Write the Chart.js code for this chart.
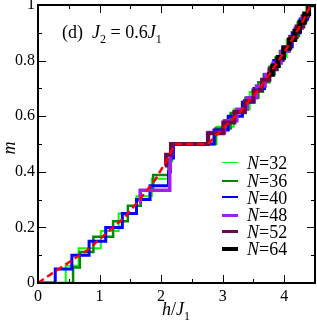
<!DOCTYPE html>
<html>
<head>
<meta charset="utf-8">
<script src="https://cdn.jsdelivr.net/npm/chart.js@4.4.0/dist/chart.umd.min.js"></script>
<style>
  html, body { margin: 0; padding: 0; background: #fff; }
  #wrap { position: relative; width: 317px; height: 325px; font-family: 'Liberation Serif', 'Times New Roman', serif; color: #000; }
  #myChart { position: absolute; left: 0; top: 0; }
  .txt { position: absolute; white-space: nowrap; line-height: 1; font-size: 18px; }
  .txt i { font-style: italic; }
  .txt sub { font-size: 12px; vertical-align: -5px; line-height: 0; }
  .leg { position: absolute; left: 222px; width: 16px; height: 0; }
  .legt { position: absolute; left: 247px; white-space: nowrap; line-height: 1; font-size: 18px; }
</style>
</head>
<body>
<div id="wrap">
  <canvas id="myChart" width="317" height="325"></canvas>
  <div class="txt" style="left:62px; top:23px;">(d)&nbsp;&nbsp;<i>J</i><sub>2</sub> = 0.6<i>J</i><sub>1</sub></div>
  <div class="txt" style="left:162px; top:300px;"><i>h</i>/<i>J</i><sub>1</sub></div>
  <div class="txt" style="left:2px; top:139px; transform: rotate(-90deg);"><i>m</i></div>
  <div id="legend"></div>
</div>
<script>
// magnetization steps: field h/J1 where m jumps, and m after the jump
const h32 = [0, 0.45, 0.66, 1.02, 1.31, 1.60, 1.85, 2.13, 2.18, 2.90, 3.18, 3.44, 3.66, 3.85, 4.04, 4.21, 4.36, 4.5];
const m32 = [0, 0.0625, 0.125, 0.1875, 0.25, 0.3125, 0.375, 0.4375, 0.5, 0.5625, 0.625, 0.6875, 0.75, 0.8125, 0.875, 0.9375, 1, 1];

const h36 = [0, 0.57, 0.68, 0.90, 1.22, 1.46, 1.67, 1.87, 2.12, 2.17, 2.88, 3.13, 3.37, 3.58, 3.76, 3.93, 4.09, 4.24, 4.37, 4.5];
const m36 = [0, 0.0556, 0.1111, 0.1667, 0.2222, 0.2778, 0.3333, 0.3889, 0.4444, 0.5, 0.5556, 0.6111, 0.6667, 0.7222, 0.7778, 0.8333, 0.8889, 0.9444, 1, 1];

const h40 = [0, 0.28, 0.55, 0.83, 1.10, 1.37, 1.60, 1.82, 2.12, 2.15, 2.20, 2.86, 3.09, 3.32, 3.51, 3.68, 3.83, 3.98, 4.13, 4.26, 4.38, 4.5];
const m40 = [0, 0.05, 0.1, 0.15, 0.2, 0.25, 0.3, 0.35, 0.4, 0.45, 0.5, 0.55, 0.6, 0.65, 0.7, 0.75, 0.8, 0.85, 0.9, 0.95, 1, 1];

const h48 = [1.64, 1.66, 2.14, 2.15, 2.17, 2.77, 3.03, 3.23, 3.40, 3.55, 3.69, 3.82, 3.95, 4.07, 4.18, 4.29, 4.39, 4.5];
const m48 = [0.2917, 0.3333, 0.4167, 0.4583, 0.5, 0.5417, 0.5833, 0.625, 0.6667, 0.7083, 0.75, 0.7917, 0.8333, 0.875, 0.9167, 0.9583, 1, 1];

const h52 = [2.06, 2.08, 2.16, 2.76, 3.01, 3.19, 3.36, 3.50, 3.64, 3.76, 3.88, 3.99, 4.10, 4.20, 4.31, 4.39, 4.5];
const m52 = [0.4231, 0.4615, 0.5, 0.5385, 0.5769, 0.6154, 0.6538, 0.6923, 0.7308, 0.7692, 0.8077, 0.8462, 0.8846, 0.9231, 0.9615, 1, 1];

const h64 = [3.72, 3.81, 3.90, 3.99, 4.08, 4.17, 4.25, 4.33, 4.40, 4.5];
const m64 = [0.75, 0.7813, 0.8125, 0.8438, 0.875, 0.9063, 0.9375, 0.9688, 1, 1];

// red dashed curve (large-N estimate)
const hInf = [0, 0.3, 0.8, 1.4, 1.65, 1.9, 2.09, 2.2, 2.24, 2.76, 3.0, 3.3, 3.6, 3.85, 4.1, 4.3, 4.43];
const mInf = [0, 0.045, 0.118, 0.235, 0.3, 0.37, 0.44, 0.49, 0.5, 0.5, 0.555, 0.62, 0.7, 0.78, 0.865, 0.94, 1];

const xMajor = [0, 1, 2, 3, 4];
const xMinor = [0.5, 1.5, 2.5, 3.5];
const yMajor = [0, 0.2, 0.4, 0.6, 0.8, 1];
const yLabels = ['0', '0.2', '0.4', '0.6', '0.8', '1'];
const yMinor = [0.1, 0.3, 0.5, 0.7, 0.9];

function pts(hs, ms) {
  return hs.map(function(h, i) { return {x: h, y: ms[i]}; });
}

const series = [
  {label: 'N=32', h: h32, m: m32, color: '#00ff00', width: 2, legW: 1.5},
  {label: 'N=36', h: h36, m: m36, color: '#008a00', width: 2.5, legW: 2},
  {label: 'N=40', h: h40, m: m40, color: '#0000ff', width: 3, legW: 2.5},
  {label: 'N=48', h: h48, m: m48, color: '#a020f0', width: 3.5, legW: 3},
  {label: 'N=52', h: h52, m: m52, color: '#6a0a4e', width: 4, legW: 3.5},
  {label: 'N=64', h: h64, m: m64, color: '#000000', width: 4.5, legW: 4}
];

const datasets = [{
  label: 'inf',
  data: pts(hInf, mInf),
  borderColor: '#ff0000',
  borderWidth: 2.5,
  borderDash: [7, 4],
  pointRadius: 0,
  fill: false,
  order: 0
}];
series.forEach(function(s, i) {
  datasets.push({
    label: s.label,
    data: pts(s.h, s.m),
    borderColor: s.color,
    borderWidth: s.width,
    stepped: true,
    pointRadius: 0,
    fill: false,
    borderJoinStyle: 'miter',
    order: series.length - i
  });
});

// legend (html)
const legend = document.getElementById('legend');
const legY = [163, 180.5, 197.5, 215, 232, 249];
series.forEach(function(s, i) {
  var ln = document.createElement('div');
  ln.className = 'leg';
  ln.style.top = (legY[i] - s.legW / 2) + 'px';
  ln.style.borderTop = s.legW + 'px solid ' + s.color;
  legend.appendChild(ln);
  var t = document.createElement('div');
  t.className = 'legt';
  t.style.top = (legY[i] - 9) + 'px';
  t.innerHTML = '<i>N</i>=' + s.label.slice(2);
  legend.appendChild(t);
});

const frameTicks = {
  id: 'frameTicks',
  afterDatasetsDraw(chart) {
    const ctx = chart.ctx;
    const a = chart.chartArea;
    const x = chart.scales.x, y = chart.scales.y;
    ctx.save();
    ctx.strokeStyle = '#000';
    ctx.lineWidth = 1;
    function seg(x1, y1, x2, y2) {
      ctx.beginPath(); ctx.moveTo(x1, y1); ctx.lineTo(x2, y2); ctx.stroke();
    }
    xMajor.forEach(function(v) {
      const p = Math.round(x.getPixelForValue(v)) + 0.5;
      seg(p, a.bottom, p, a.bottom - 8);
      seg(p, a.top, p, a.top + 8);
    });
    xMinor.forEach(function(v) {
      const p = Math.round(x.getPixelForValue(v)) + 0.5;
      seg(p, a.bottom, p, a.bottom - 4);
      seg(p, a.top, p, a.top + 4);
    });
    yMajor.forEach(function(v) {
      const p = Math.round(y.getPixelForValue(v)) + 0.5;
      seg(a.left, p, a.left + 8, p);
      seg(a.right, p, a.right - 8, p);
    });
    yMinor.forEach(function(v) {
      const p = Math.round(y.getPixelForValue(v)) + 0.5;
      seg(a.left, p, a.left + 4, p);
      seg(a.right, p, a.right - 4, p);
    });
    ctx.lineWidth = 2;
    ctx.strokeRect(a.left, a.top, a.right - a.left, a.bottom - a.top);
    ctx.restore();
  }
};

const ctx = document.getElementById('myChart');
new Chart(ctx, {
  type: 'line',
  data: {datasets: datasets},
  options: {
    responsive: false,
    animation: false,
    layout: {padding: {left: 0, right: 2, top: 5, bottom: 0}},
    plugins: {legend: {display: false}, tooltip: {enabled: false}},
    scales: {
      x: {
        type: 'linear',
        min: 0, max: 4.5,
        grid: {display: false, drawTicks: false},
        border: {display: false},
        ticks: {
          stepSize: 1, includeBounds: false, padding: 4,
          color: '#000', maxRotation: 0,
          font: {family: "'Liberation Serif', serif", size: 16}
        },
        afterFit: function(s) { s.height = 42; s.paddingLeft = 0; s.paddingRight = 0; }
      },
      y: {
        type: 'linear',
        min: 0, max: 1,
        grid: {display: false, drawTicks: false},
        border: {display: false},
        ticks: {
          stepSize: 0.2, padding: 3, color: '#000',
          font: {family: "'Liberation Serif', serif", size: 16},
          callback: function(v) {
            const i = yMajor.findIndex(function(t) { return Math.abs(t - v) < 1e-6; });
            return i < 0 ? '' : yLabels[i];
          }
        },
        afterFit: function(s) { s.width = 38; s.paddingTop = 0; s.paddingBottom = 0; }
      }
    }
  },
  plugins: [frameTicks]
});
</script>
</body>
</html>
